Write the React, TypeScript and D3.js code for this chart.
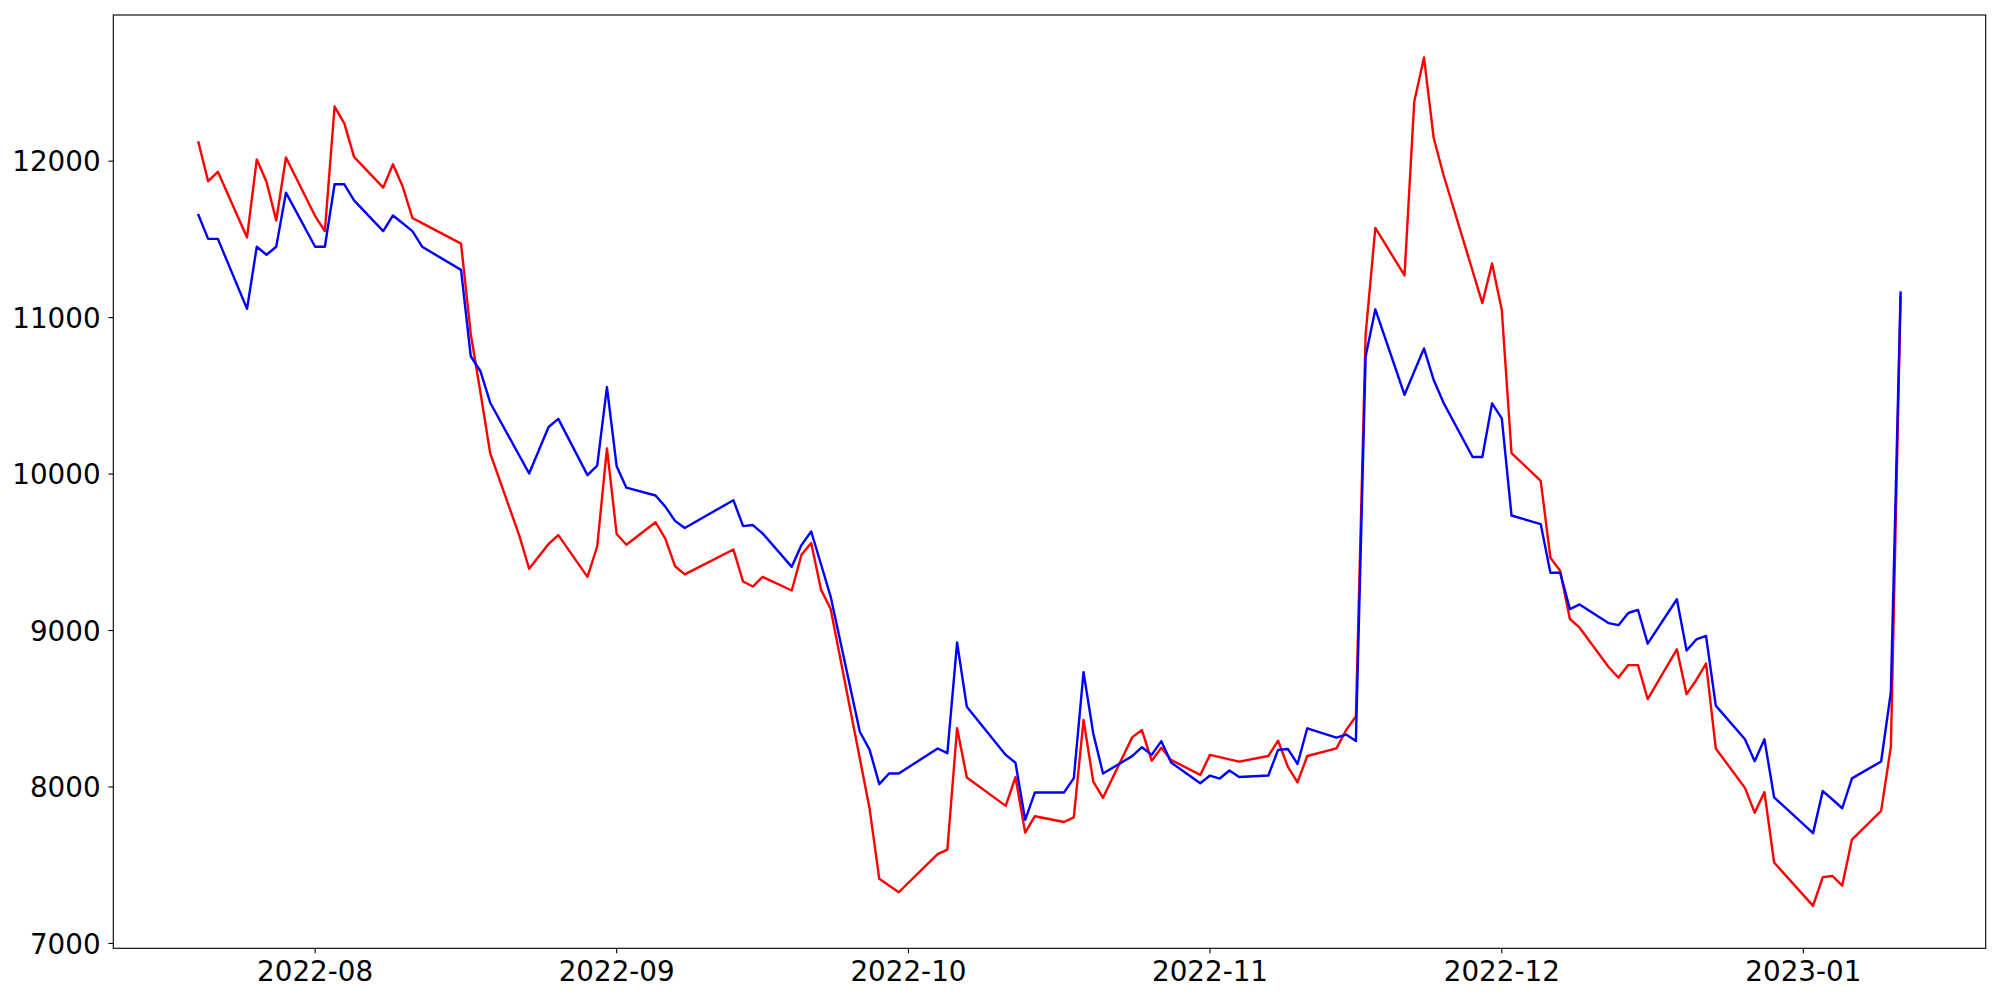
import React from "react";
import * as d3 from "d3";

const dates: string[] = [
  "2022-07-20","2022-07-21","2022-07-22","2022-07-25","2022-07-26","2022-07-27","2022-07-28","2022-07-29",
  "2022-08-01","2022-08-02","2022-08-03","2022-08-04","2022-08-05","2022-08-08","2022-08-09","2022-08-10","2022-08-11","2022-08-12","2022-08-16","2022-08-17","2022-08-18","2022-08-19","2022-08-22","2022-08-23","2022-08-25","2022-08-26","2022-08-29","2022-08-30","2022-08-31",
  "2022-09-01","2022-09-02","2022-09-05","2022-09-06","2022-09-07","2022-09-08","2022-09-13","2022-09-14","2022-09-15","2022-09-16","2022-09-19","2022-09-20","2022-09-21","2022-09-22","2022-09-23","2022-09-26","2022-09-27","2022-09-28","2022-09-29","2022-09-30",
  "2022-10-04","2022-10-05","2022-10-06","2022-10-07","2022-10-11","2022-10-12","2022-10-13","2022-10-14","2022-10-17","2022-10-18","2022-10-19","2022-10-20","2022-10-21","2022-10-24","2022-10-25","2022-10-26","2022-10-27","2022-10-28","2022-10-31",
  "2022-11-01","2022-11-02","2022-11-03","2022-11-04","2022-11-07","2022-11-08","2022-11-09","2022-11-10","2022-11-11","2022-11-14","2022-11-15","2022-11-16","2022-11-17","2022-11-18","2022-11-21","2022-11-22","2022-11-23","2022-11-24","2022-11-25","2022-11-28","2022-11-29","2022-11-30",
  "2022-12-01","2022-12-02","2022-12-05","2022-12-06","2022-12-07","2022-12-08","2022-12-09","2022-12-12","2022-12-13","2022-12-14","2022-12-15","2022-12-16","2022-12-19","2022-12-20","2022-12-21","2022-12-22","2022-12-23","2022-12-26","2022-12-27","2022-12-28","2022-12-29",
  "2023-01-02","2023-01-03","2023-01-04","2023-01-05","2023-01-06","2023-01-09","2023-01-10","2023-01-11",
];

const redValues: number[] = [
  12120,11872,11932,11512,12011,11868,11621,12023,
  11649,11553,12349,12241,12027,11831,11980,11838,11637,11604,11473,10896,10520,10132,9605,9395,9553,9610,9343,9537,10164,
  9617,9548,9692,9587,9411,9359,9518,9313,9281,9343,9256,9484,9560,9263,9138,8182,7863,7413,7370,7327,
  7571,7600,8376,8061,7879,8063,7708,7813,7776,7806,8428,8034,7931,8317,8364,8168,8251,8173,8077,
  8205,8191,8176,8162,8198,8296,8130,8030,8198,8247,8364,8450,10891,11573,11270,12380,12663,12148,11913,11298,11093,11346,
  11048,10134,9957,9465,9382,9074,9018,8765,8699,8779,8779,8562,8880,8593,8684,8789,8246,7994,7835,7967,7517,
  7240,7424,7431,7370,7664,7847,8256,11130,
];

const blueValues: number[] = [
  11656,11503,11503,11056,11453,11402,11453,11799,
  11453,11453,11852,11852,11749,11553,11653,11603,11553,11453,11305,10753,10657,10456,10117,10004,10301,10353,9993,10054,10556,
  10050,9913,9863,9792,9701,9655,9833,9667,9674,9621,9407,9546,9633,9425,9217,8353,8239,8018,8086,8086,
  8246,8216,8923,8513,8205,8155,7790,7965,7965,8057,8734,8342,8086,8197,8254,8205,8293,8156,8024,
  8073,8054,8105,8064,8073,8237,8243,8147,8375,8315,8335,8294,10752,11053,10507,10656,10803,10601,10457,10109,10109,10452,
  10356,9735,9680,9369,9369,9137,9167,9047,9034,9112,9132,8916,9200,8872,8943,8965,8520,8305,8165,8305,7933,
  7705,7974,7920,7864,8055,8163,8606,11160,
];

const yTickValues: number[] = [7000, 8000, 9000, 10000, 11000, 12000];
const xTickLabels: string[] = ["2022-08", "2022-09", "2022-10", "2022-11", "2022-12", "2023-01"];

const W = 2000;
const H = 1000;
const left = 113.3;
const right = 1985.7;
const top = 15;
const bottom = 948.3;
const FONT = "'DejaVu Sans', sans-serif";
const FS = 27.78;
const TICK = 4.86;

export default function App() {
  const parse = d3.timeParse("%Y-%m-%d");
  const xs = dates.map((d) => parse(d) as Date);
  const t0 = xs[0].getTime();
  const t1 = xs[xs.length - 1].getTime();
  const padT = (t1 - t0) * 0.05;
  const x = d3.scaleTime().domain([new Date(t0 - padT), new Date(t1 + padT)]).range([left, right]);

  const all = redValues.concat(blueValues);
  const vmin = d3.min(all) as number;
  const vmax = d3.max(all) as number;
  const padV = (vmax - vmin) * 0.05;
  const y = d3.scaleLinear().domain([vmin - padV, vmax + padV]).range([bottom, top]);

  const line = d3
    .line<number>()
    .x((_, i) => x(xs[i]))
    .y((v) => y(v));

  const monthParse = d3.timeParse("%Y-%m");
  const xTicks = xTickLabels.map((s) => ({ label: s, date: monthParse(s) as Date }));

  return (
    <svg
      width={W}
      height={H}
      viewBox={`0 0 ${W} ${H}`}
      style={{ position: "absolute", left: 0, top: 0, background: "#fff" }}
    >
      <rect x={0} y={0} width={W} height={H} fill="#fff" />
      <path d={line(redValues) || ""} fill="none" stroke="#ff0000" strokeWidth={2.4} strokeLinejoin="round" strokeLinecap="square" />
      <path d={line(blueValues) || ""} fill="none" stroke="#0000ff" strokeWidth={2.4} strokeLinejoin="round" strokeLinecap="square" />
      <rect x={left} y={top} width={right - left} height={bottom - top} fill="none" stroke="#000" strokeWidth={1.11} />
      {yTickValues.map((v) => (
        <g key={v}>
          <line x1={left - TICK} x2={left} y1={y(v)} y2={y(v)} stroke="#000" strokeWidth={1.11} />
          <text x={left - TICK - 4.86 - 3} y={y(v) + 10.1} textAnchor="end" fontFamily={FONT} fontSize={FS} fill="#000">
            {v}
          </text>
        </g>
      ))}
      {xTicks.map((t) => (
        <g key={t.label}>
          <line x1={x(t.date)} x2={x(t.date)} y1={bottom} y2={bottom + TICK} stroke="#000" strokeWidth={1.11} />
          <text x={x(t.date)} y={980.7} textAnchor="middle" fontFamily={FONT} fontSize={FS} fill="#000">
            {t.label}
          </text>
        </g>
      ))}
    </svg>
  );
}
